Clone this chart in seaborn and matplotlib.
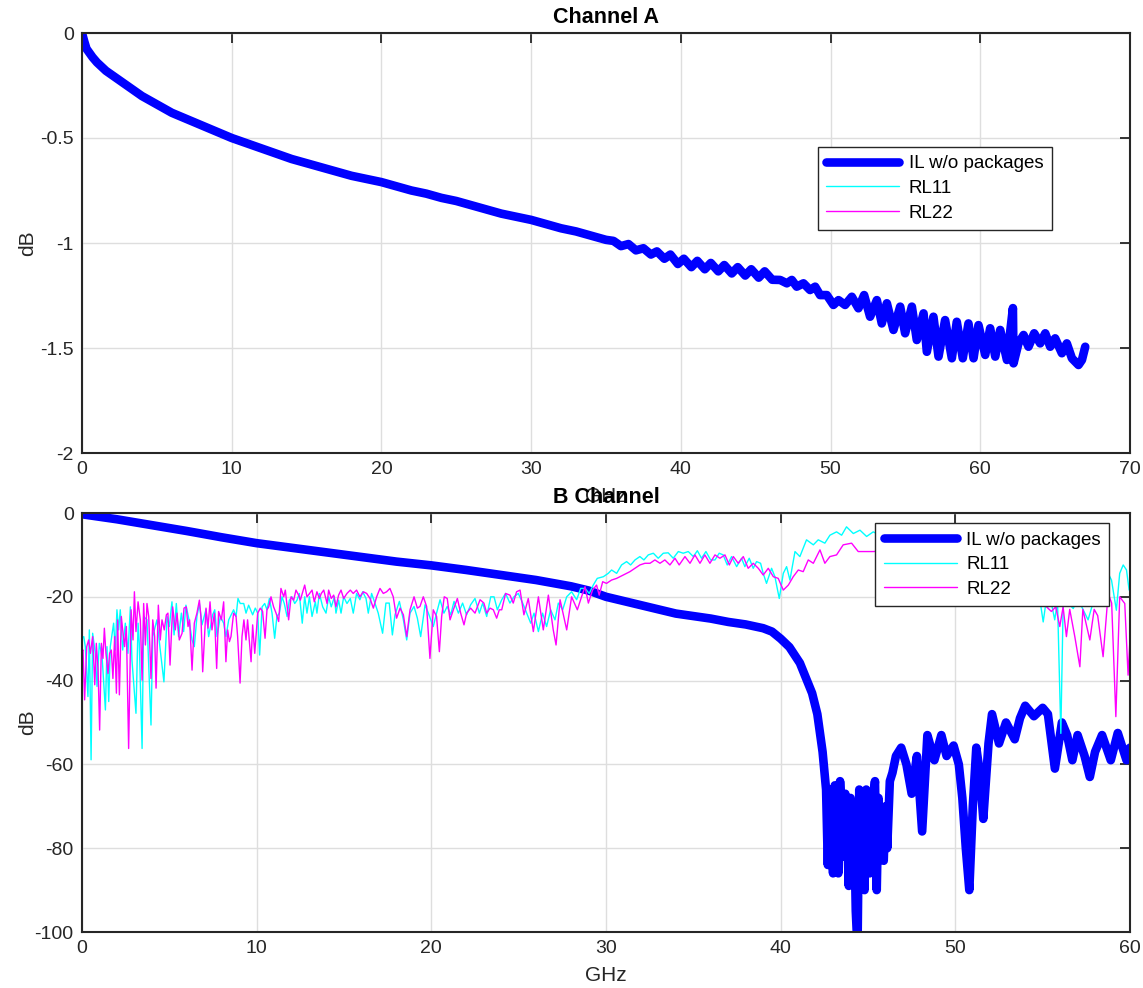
import numpy as np
import pandas as pd
import seaborn as sns
from matplotlib import pyplot as plt

# ---- Channel A insertion loss (GHz, dB)
ilA_f = [0, 0.15, 0.3, 0.5, 0.7, 1.0, 1.3, 1.6, 2.0, 2.5, 3.0, 3.5, 4.0, 4.5, 5.0,
         6, 7, 8, 9, 10, 11, 12, 13, 14, 15, 16, 17, 18, 19, 20, 21, 22, 23, 24, 25,
         26, 27, 28, 29, 30, 31, 32, 33, 34,
         35.0, 35.5, 36.0, 36.5, 37.0, 37.5, 38.0, 38.4, 38.9, 39.3, 39.8, 40.2, 40.7,
         41.1, 41.6, 42.0, 42.5, 42.9, 43.4, 43.8, 44.3, 44.7, 45.2, 45.6, 46.1,
         46.63, 47.08, 47.41, 47.74, 48.19, 48.63, 48.97, 49.30, 49.75, 50.19, 50.53,
         50.97, 51.42, 51.86, 52.24, 52.64, 53.09, 53.42, 53.76, 54.20, 54.65, 54.98,
         55.43, 55.76, 56.21, 56.43, 56.87, 57.21, 57.65, 58.10, 58.43, 58.83, 59.21,
         59.55, 59.88, 60.33, 60.66, 61.00, 61.33, 61.78, 62.18, 62.22, 62.55, 62.89,
         63.22, 63.60, 64.00, 64.34, 64.67, 65.00, 65.45, 65.78, 66.12, 66.56, 66.79, 67.01]
ilA_db = [0, -0.04, -0.075, -0.095, -0.115, -0.14, -0.16, -0.18, -0.20, -0.225, -0.25,
          -0.275, -0.30, -0.32, -0.34,
          -0.38, -0.41, -0.44, -0.47, -0.50, -0.525, -0.55, -0.575, -0.60, -0.62, -0.64,
          -0.66, -0.68, -0.695, -0.71, -0.73, -0.75, -0.765, -0.785, -0.80,
          -0.82, -0.84, -0.86, -0.875, -0.89, -0.91, -0.93, -0.945, -0.965,
          -0.985, -0.99, -1.015, -1.005, -1.035, -1.025, -1.055, -1.04, -1.075, -1.055, -1.10,
          -1.075, -1.115, -1.085, -1.125, -1.095, -1.135, -1.105, -1.145, -1.115, -1.155, -1.125,
          -1.165, -1.135, -1.175,
          -1.176, -1.192, -1.176, -1.208, -1.192, -1.224, -1.208, -1.248, -1.248, -1.295,
          -1.272, -1.295, -1.256, -1.311, -1.248, -1.351, -1.272, -1.383, -1.287, -1.414,
          -1.303, -1.430, -1.303, -1.462, -1.335, -1.518, -1.351, -1.541, -1.367, -1.549,
          -1.375, -1.549, -1.383, -1.549, -1.391, -1.533, -1.406, -1.541, -1.414, -1.557,
          -1.31, -1.573, -1.478, -1.438, -1.494, -1.430, -1.478, -1.430, -1.494, -1.454,
          -1.525, -1.478, -1.549, -1.581, -1.557, -1.494]

# ---- B channel insertion loss (GHz, dB)
ilB_f = [0, 2, 4, 6, 8, 10, 12, 14, 16, 18, 20, 22, 24, 26, 28, 29, 30, 31, 32, 33,
         34, 35, 36, 37, 38, 39, 39.5, 40.0, 40.5, 41.1, 41.8, 42.1, 42.4,
         42.6, 42.7, 42.8, 42.9, 43.0, 43.1, 43.2, 43.3, 43.4, 43.5, 43.6, 43.7, 43.8,
         43.9, 44.0, 44.1, 44.2, 44.3, 44.4, 44.5, 44.6, 44.7, 44.8, 44.9, 45.0, 45.1,
         45.25, 45.4, 45.5, 45.6, 45.7, 45.8, 45.9, 46.0, 46.1, 46.25, 46.4, 46.6,
         46.9, 47.2, 47.5, 47.8, 48.1, 48.4, 48.8, 49.2, 49.5, 49.9, 50.2, 50.4, 50.6,
         50.8, 51.0, 51.2, 51.4, 51.6, 51.9, 52.1, 52.5, 52.9, 53.4, 53.7, 54.0, 54.5,
         55.0, 55.3, 55.7, 56.1, 56.4, 56.7, 57.0, 57.4, 57.7, 58.0, 58.4, 58.9, 59.3,
         59.8, 60.0]
ilB_db = [-0.3, -1.5, -2.9, -4.3, -5.8, -7.2, -8.3, -9.4, -10.5, -11.6, -12.5, -13.6,
          -14.8, -16.0, -17.5, -18.5, -20.0, -21.0, -22.0, -23.0, -24.0, -24.6, -25.2,
          -26.0, -26.6, -27.5, -28.3, -30.0, -32.0, -35.8, -43.0, -48.0, -57.0,
          -66, -84, -66, -78, -86, -65, -70, -86, -64, -72, -82, -67, -75, -89, -68,
          -85, -72, -95, -104, -66, -88, -68, -90, -66, -78, -86, -70, -64, -90, -68,
          -78, -71, -83, -70, -80, -64, -62, -58,
          -56, -60, -67, -58, -76, -53, -59, -53, -58, -55.5, -60, -68, -80, -90, -70,
          -56, -62, -73, -55, -48, -55, -50, -54, -49, -46, -48.5, -46.5, -48, -61,
          -50, -53, -59, -53, -58, -63, -57, -53, -59, -52.5, -59, -56]

# ---- B channel return loss RL11 (GHz, dB)
rl11_f = [0.00, 0.10, 0.19, 0.34, 0.42, 0.52, 0.61, 0.76, 0.86, 0.99, 1.15, 1.34, 1.43,
          1.53, 1.62, 1.81, 1.91, 2.00, 2.10, 2.19, 2.33, 2.48, 2.63, 2.77, 2.86, 3.09,
          3.21, 3.28, 3.44, 3.53, 3.72, 3.95, 4.05, 4.29, 4.48, 4.69, 4.87, 5.00, 5.15,
          5.27, 5.40, 5.53, 5.69, 5.82, 5.95, 6.11, 6.30, 6.43, 6.58, 6.72, 6.87, 7.10,
          7.25, 7.48, 7.60, 7.73, 7.92, 8.11, 8.24, 8.40, 8.68, 8.82, 8.93, 9.06, 9.26,
          9.39, 9.54, 9.77, 9.92, 10.06, 10.17, 10.31, 10.46, 10.59, 10.73, 10.88, 11.03,
          11.16, 11.30, 11.45, 11.58, 11.74, 11.87, 12.02, 12.18, 12.31, 12.44, 12.61,
          12.75, 12.88, 13.02, 13.17, 13.36, 13.45, 13.59, 13.78, 13.97, 14.12, 14.27,
          14.45, 14.54, 14.69, 14.83, 14.98, 15.17, 15.36,
          15.53, 15.72, 15.91, 16.07, 16.26, 16.39, 16.58, 16.77, 16.96, 17.21, 17.40,
          17.59, 17.77, 17.92, 18.17, 18.40, 18.59, 18.78, 19.01, 19.20, 19.39, 19.64,
          19.83, 20.11, 20.30, 20.50, 20.72, 20.91, 21.11, 21.30, 21.55, 21.79, 22.02,
          22.25, 22.50, 22.75, 22.94, 23.17, 23.40, 23.59, 23.78, 24.03, 24.25, 24.50,
          24.73, 24.98, 25.23, 25.46, 25.69, 25.88, 26.13, 26.37, 26.60, 26.83, 27.08,
          27.27, 27.52, 27.75, 28.03, 28.32, 28.55, 28.80, 29.04, 29.27, 29.50, 29.85,
          30.13, 30.32, 30.61, 30.89, 31.18, 31.41, 31.66, 31.94, 32.17, 32.42, 32.71,
          32.99, 33.28, 33.56, 33.85, 34.14, 34.42, 34.71, 35.00, 35.23, 35.47, 35.72,
          35.99, 36.24, 36.48, 36.71, 36.94, 37.19, 37.48, 37.76, 37.95, 38.20, 38.43,
          38.62, 38.85, 39.00, 39.19, 39.48, 39.67, 39.92, 40.15, 40.34, 40.53, 40.82,
          41.10, 41.48, 41.87, 42.15, 42.53, 42.82, 43.20, 43.49, 43.77, 44.16, 44.54,
          44.92, 45.30, 46.0, 47.0, 48.0, 49.0, 50.0, 51.0, 52.0, 53.0, 54.0, 54.5,
          55.03, 55.18, 55.31, 55.45, 55.69, 55.85, 56.04, 56.17, 56.45, 56.75, 56.95,
          57.25, 57.60, 57.90, 58.25, 58.65, 58.94, 59.22, 59.41, 59.61, 59.80, 59.95]
rl11_db = [-30.0, -29.5, -31.9, -43.8, -27.9, -58.9, -28.7, -33.5, -41.4, -31.1, -34.3,
           -47.0, -31.9, -45.0, -31.9, -26.3, -32.7, -23.1, -27.9, -23.1, -32.7, -26.3,
           -33.5, -22.4, -35.1, -47.8, -26.3, -31.1, -56.2, -24.7, -25.5, -50.6, -29.5,
           -25.5, -32.7, -40.3, -24.7, -27.1, -21.2, -29.1, -21.6, -29.5, -23.9, -28.3,
           -22.0, -25.1, -30.3, -31.9, -24.7, -21.6, -26.7, -23.0, -29.5, -24.3, -23.1,
           -29.5, -24.7, -26.3, -29.5, -25.5, -23.1, -24.7, -20.4, -21.6, -21.6, -23.9,
           -22.0, -24.3, -22.7, -23.9, -33.9, -22.4, -21.6, -23.1, -20.4, -23.9, -29.9,
           -24.7, -23.9, -20.0, -21.6, -24.7, -20.8, -20.0, -21.6, -20.8, -19.2, -26.3,
           -20.0, -23.9, -20.0, -24.7, -21.2, -23.9, -19.2, -22.4, -23.9, -20.0, -22.4,
           -20.0, -23.9, -20.8, -23.9, -20.0, -21.6, -20.4,
           -23.9, -19.2, -20.7, -18.8, -20.4, -23.9, -19.2, -21.5, -23.9, -28.7, -21.5,
           -21.5, -29.1, -24.3, -21.1, -25.5, -30.3, -23.9, -22.3, -25.1, -29.5, -21.9,
           -23.9, -27.1, -23.9, -20.7, -23.9, -22.3, -24.3, -21.1, -23.9, -21.5, -24.3,
           -21.9, -20.4, -23.9, -21.5, -24.7, -20.0, -20.0, -23.1, -20.7, -19.2, -21.5,
           -20.0, -19.2, -21.5, -23.9, -26.3, -23.9, -28.3, -23.9, -27.1, -23.1, -25.5,
           -21.5, -23.1, -20.0, -18.8, -20.7, -18.0, -18.0, -19.2, -17.2, -15.6, -15.2,
           -14.4, -13.6, -14.4, -12.4, -11.6, -12.4, -11.2, -10.4, -11.2, -10.0, -9.6,
           -10.8, -9.6, -9.5, -10.8, -9.2, -9.6, -9.2, -10.4, -9.0, -10.8, -9.2,
           -11.2, -11.2, -9.6, -10.0, -12.4, -10.4, -12.8, -10.8, -12.8, -10.8, -13.2,
           -11.6, -12.0, -14.4, -16.8, -13.2, -15.2, -20.4, -14.4, -12.8, -16.0, -9.2,
           -10.4, -6.4, -7.6, -6.4, -7.2, -5.3, -4.5, -5.3, -3.3, -4.9, -4.1,
           -5.6, -4.5, -6.0, -5.0, -8.0, -7.0, -10.0, -8.0, -12.0, -9.0, -14.0, -11.0,
           -26.0, -21.6, -22.4, -20.5, -25.5, -21.0, -52.6, -22.4, -21.5, -22.8, -21.0,
           -22.5, -25.5, -21.2, -21.0, -13.6, -16.0, -23.2, -14.4, -12.4, -13.6, -18.4]

# ---- B channel return loss RL22 (GHz, dB)
rl22_f = [0.00, 0.06, 0.15, 0.27, 0.38, 0.48, 0.61, 0.73, 0.82, 0.92, 1.01, 1.11, 1.20,
          1.28, 1.37, 1.49, 1.58, 1.68, 1.77, 1.87, 1.97, 2.04, 2.14, 2.25, 2.33, 2.44,
          2.54, 2.67, 2.81, 2.92, 3.00, 3.09, 3.21, 3.34, 3.44, 3.53, 3.63, 3.72, 3.82,
          3.95, 4.05, 4.16, 4.24, 4.37, 4.48, 4.58, 4.71, 4.83, 4.92, 5.04, 5.19, 5.34,
          5.44, 5.57, 5.73, 5.84, 5.97, 6.07, 6.16, 6.30, 6.43, 6.58, 6.72, 6.81, 6.91,
          7.10, 7.21, 7.33, 7.44, 7.58, 7.71, 7.82, 7.98, 8.11, 8.24, 8.34, 8.44, 8.53,
          8.68, 8.82, 8.91, 9.05, 9.16, 9.27, 9.39, 9.48, 9.68, 9.77, 9.89, 10.06, 10.21,
          10.34, 10.48, 10.59, 10.69, 10.82, 10.97, 11.11, 11.26, 11.39, 11.55, 11.64,
          11.83, 11.97, 12.12, 12.25, 12.40, 12.50, 12.75, 12.88, 13.03, 13.17, 13.30,
          13.45, 13.59, 13.70, 13.84, 14.03, 14.12, 14.27, 14.41, 14.54, 14.69, 14.83,
          14.98, 15.17, 15.36,
          15.53, 15.72, 15.91, 16.11, 16.30, 16.49, 16.68, 16.87, 17.06, 17.25, 17.44,
          17.63, 17.82, 18.01, 18.21, 18.40, 18.59, 18.78, 19.01, 19.20, 19.35, 19.54,
          19.73, 19.92, 20.11, 20.30, 20.46, 20.59, 20.74, 20.91, 21.07, 21.26, 21.49,
          21.68, 21.87, 22.02, 22.25, 22.50, 22.79, 23.01, 23.17, 23.36, 23.55, 23.74,
          23.89, 24.03, 24.25, 24.50, 24.69, 24.88, 25.08, 25.30, 25.55, 25.84, 26.13,
          26.41, 26.70, 26.98, 27.14, 27.37, 27.75, 28.03, 28.36, 28.60, 28.80, 28.99,
          29.23, 29.46, 29.61, 29.81, 30.03, 30.32, 30.61, 30.99, 31.37, 31.66, 31.94,
          32.23, 32.52, 32.80, 33.09, 33.37, 33.66, 33.95, 34.19, 34.52, 34.81, 35.09,
          35.38, 35.66, 35.95, 36.24, 36.52, 36.81, 37.06, 37.29, 37.57, 37.86, 38.14,
          38.43, 38.72, 39.00, 39.29, 39.58, 39.86, 40.15, 40.44, 40.72, 41.01, 41.29,
          41.58, 41.87, 42.25, 42.53, 42.82, 43.20, 43.58, 44.06, 44.44, 44.92, 45.30,
          46.0, 47.0, 48.0, 49.0, 50.0, 51.0, 52.0, 53.0, 54.0, 55.0,
          55.22, 55.50, 55.75, 55.98, 56.17, 56.36, 56.55, 56.84, 57.13, 57.30, 57.70,
          57.95, 58.15, 58.46, 58.75, 58.95, 59.19, 59.41, 59.70, 59.89, 60.0]
rl22_db = [-33.0, -32.7, -44.6, -31.9, -30.3, -33.5, -29.5, -41.0, -31.1, -37.5, -51.8,
           -31.1, -34.7, -27.5, -33.5, -38.3, -33.5, -32.7, -39.5, -29.5, -43.0, -25.5,
           -43.4, -24.7, -27.9, -31.9, -27.1, -56.2, -23.1, -30.3, -18.8, -28.3, -21.2,
           -25.5, -39.9, -21.6, -31.5, -21.6, -24.7, -39.5, -25.5, -29.5, -41.8, -22.0,
           -30.3, -25.5, -27.9, -24.3, -23.9, -36.3, -22.4, -27.9, -23.9, -30.3, -28.7,
           -22.7, -22.4, -27.1, -25.5, -37.5, -26.3, -23.9, -20.8, -24.7, -37.9, -22.7,
           -27.5, -21.2, -27.9, -23.9, -37.1, -23.5, -25.5, -21.2, -35.5, -27.9, -30.7,
           -29.5, -23.9, -24.7, -29.5, -40.6, -29.5, -25.5, -30.3, -25.5, -35.5, -26.7,
           -33.5, -23.9, -22.7, -23.5, -29.9, -23.1, -22.4, -20.0, -22.4, -23.9, -25.9,
           -18.0, -20.0, -18.4, -25.5, -20.0, -20.8, -18.4, -19.6, -20.8, -17.2, -20.0,
           -19.2, -18.4, -21.2, -18.8, -20.4, -19.2, -18.4, -21.6, -18.4, -20.4, -19.6,
           -22.4, -19.6, -18.4, -20.4, -19.2, -18.4,
           -19.2, -18.4, -20.0, -18.8, -19.2, -20.4, -22.7, -20.0, -18.0, -19.2, -18.8,
           -18.0, -20.0, -25.1, -22.7, -24.3, -29.5, -23.1, -20.0, -22.7, -22.3, -20.0,
           -22.3, -34.7, -23.1, -24.7, -33.1, -24.7, -20.0, -20.4, -25.5, -23.1, -20.4,
           -23.9, -26.7, -23.9, -22.7, -23.9, -20.7, -21.5, -23.9, -22.7, -23.1, -25.1,
           -23.1, -23.1, -19.2, -19.6, -21.5, -18.8, -18.4, -24.3, -20.4, -28.3, -20.0,
           -27.9, -19.6, -27.9, -31.5, -20.7, -27.9, -20.0, -23.1, -20.0, -17.6, -21.5,
           -18.4, -17.2, -19.6, -16.4, -16.8, -16.0, -15.6, -14.8, -14.0, -13.2, -12.4,
           -12.0, -12.0, -11.2, -12.0, -11.2, -12.4, -10.8, -12.4, -10.4, -12.0, -10.0,
           -12.0, -10.0, -12.0, -10.0, -10.8, -10.0, -12.4, -10.4, -12.0, -10.4, -13.2,
           -12.0, -13.2, -14.8, -13.2, -15.2, -15.6, -18.4, -17.2, -15.2, -13.6, -14.0,
           -11.2, -12.0, -8.8, -12.0, -10.4, -10.0, -7.6, -7.2, -9.2, -9.2, -9.2,
           -9.0, -10.0, -9.5, -11.0, -10.0, -12.0, -11.0, -14.0, -12.0, -18.0,
           -22.4, -23.5, -22.4, -27.1, -22.4, -29.5, -23.0, -29.5, -36.7, -23.0, -30.3,
           -23.0, -24.5, -34.3, -19.2, -21.5, -48.6, -20.0, -21.6, -38.7, -30.0]

labels = ['IL w/o packages', 'RL11', 'RL22']
titles = ['Channel A', 'B Channel']

sns.set_style('white')
plt.rcParams['font.family'] = ['Liberation Sans', 'DejaVu Sans']
plt.rcParams['axes.unicode_minus'] = False

ink = '#262626'
blue, cyan, magenta = '#0000ff', '#00ffff', '#ff00ff'

fig = plt.figure(figsize=(11.43, 9.88), dpi=100)
ax1 = fig.add_axes([82/1143, 1 - 453/988, 1048/1143, 420/988])
ax2 = fig.add_axes([82/1143, 1 - 932/988, 1048/1143, 419/988])

# top: channel A (return loss is below the shown range)
sns.lineplot(x=ilA_f, y=ilA_db, ax=ax1, color=blue, lw=6.2, sort=False,
             estimator=None, label=labels[0], solid_capstyle='round', solid_joinstyle='round')
ax1.plot([], [], color=cyan, lw=1, label=labels[1])
ax1.plot([], [], color=magenta, lw=1, label=labels[2])
ax1.set_xlim(0, 70)
ax1.set_ylim(-2, 0)
ax1.set_xticks(range(0, 71, 10))
ax1.set_yticks([-2, -1.5, -1, -0.5, 0])
ax1.set_yticklabels(['-2', '-1.5', '-1', '-0.5', '0'])

# bottom: B channel
sns.lineplot(x=ilB_f, y=ilB_db, ax=ax2, color=blue, lw=6.2, sort=False,
             estimator=None, label=labels[0], solid_capstyle='round', solid_joinstyle='round')
sns.lineplot(x=rl11_f, y=rl11_db, ax=ax2, color=cyan, lw=1, sort=False,
             estimator=None, label=labels[1])
sns.lineplot(x=rl22_f, y=rl22_db, ax=ax2, color=magenta, lw=1, sort=False,
             estimator=None, label=labels[2])
ax2.set_xlim(0, 60)
ax2.set_ylim(-100, 0)
ax2.set_xticks(range(0, 61, 10))
ax2.set_yticks(range(-100, 1, 20))

legpos = [(0.702, 0.729), (0.757, 0.976)]
for ax, title, lp in zip([ax1, ax2], titles, legpos):
    ax.set_axisbelow(True)
    ax.grid(True, color='#dedede', lw=1)
    for s in ax.spines.values():
        s.set_color(ink)
        s.set_linewidth(1.5)
    ax.tick_params(direction='in', top=True, right=True, length=7, width=1.3,
                   colors=ink, labelsize=14, pad=6)
    ax.set_title(title, fontsize=15.5, fontweight='bold', color='black', pad=7)
    ax.set_xlabel('GHz', fontsize=15, color=ink)
    ax.set_ylabel('dB', fontsize=15, color=ink)
    ax.xaxis.set_label_coords(0.5, -0.08)
    ax.yaxis.set_label_coords(-0.043, 0.5)
    leg = ax.legend(loc='upper left', bbox_to_anchor=lp, fancybox=False, framealpha=1,
                    edgecolor=ink, fontsize=13.5, handlelength=3.9, borderpad=0.45,
                    labelspacing=0.4, handletextpad=0.5, borderaxespad=0)
    leg.get_frame().set_linewidth(1)
    for t in leg.get_texts():
        t.set_color('black')

fig.savefig('out.png', dpi=100)
